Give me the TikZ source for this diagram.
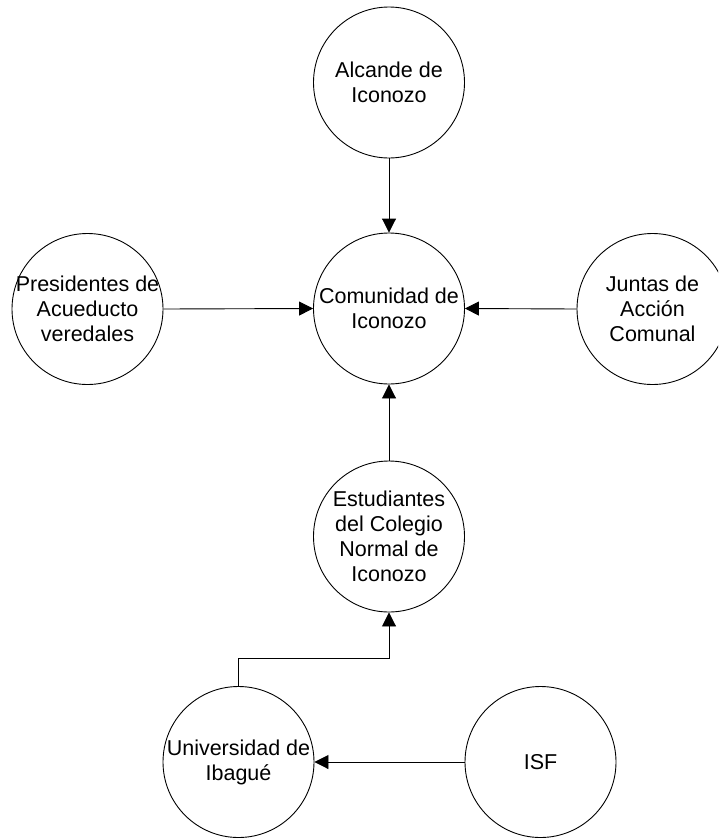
\documentclass[tikz,border=0pt]{standalone}
\usepackage{fontspec}
\setmainfont{Liberation Sans}
\usetikzlibrary{arrows.meta}
\tikzset{
  ent/.style={draw=black, line width=0.9pt, circle, minimum size=151pt, inner sep=0pt},
  lbl/.style={align=center, font=\fontsize{21.5}{25}\selectfont, inner sep=0pt},
  arr/.style={draw=black, line width=0.9pt, -{Triangle[length=14pt,width=14pt]}}
}
\begin{document}
\begin{tikzpicture}[x=1pt,y=-1pt]
\useasboundingbox (0,0) rectangle (718,838);
\clip (0,0) rectangle (718,838);
\fill[white] (0,0) rectangle (718,838);
\node[ent] (alc) at (389,82.5) {};
\node[ent] (com) at (389,308.5) {};
\node[ent] (pre) at (87.5,309) {};
\node[ent] (jun) at (652.5,309) {};
\node[ent] (est) at (389,536.5) {};
\node[ent] (uni) at (238.5,762) {};
\node[ent] (isf) at (540.5,762) {};
\node[lbl] (alct) at (alc) {Alcande de\\Iconozo};
\node[lbl] (comt) at (com) {Comunidad de\\Iconozo};
\node[lbl] (pret) at (pre) {Presidentes de\\Acueducto\\veredales};
\node[lbl] (junt) at (jun) {Juntas de\\Acción\\Comunal};
\node[lbl] (estt) at (est) {Estudiantes\\del Colegio\\Normal de\\Iconozo};
\node[lbl] (unit) at (uni) {Universidad de\\Ibagué};
\node[lbl] (isft) at (isf) {ISF};
\draw[arr] (alc.south) -- (com.north);
\draw[arr] (pre.east) -- (com.west);
\draw[arr] (jun.west) -- (com.east);
\draw[arr] (est.north) -- (com.south);
\draw[arr] (uni.north) -- ++(0,-28) -| (est.south);
\draw[arr] (isf.west) -- (uni.east);
\end{tikzpicture}
\end{document}
